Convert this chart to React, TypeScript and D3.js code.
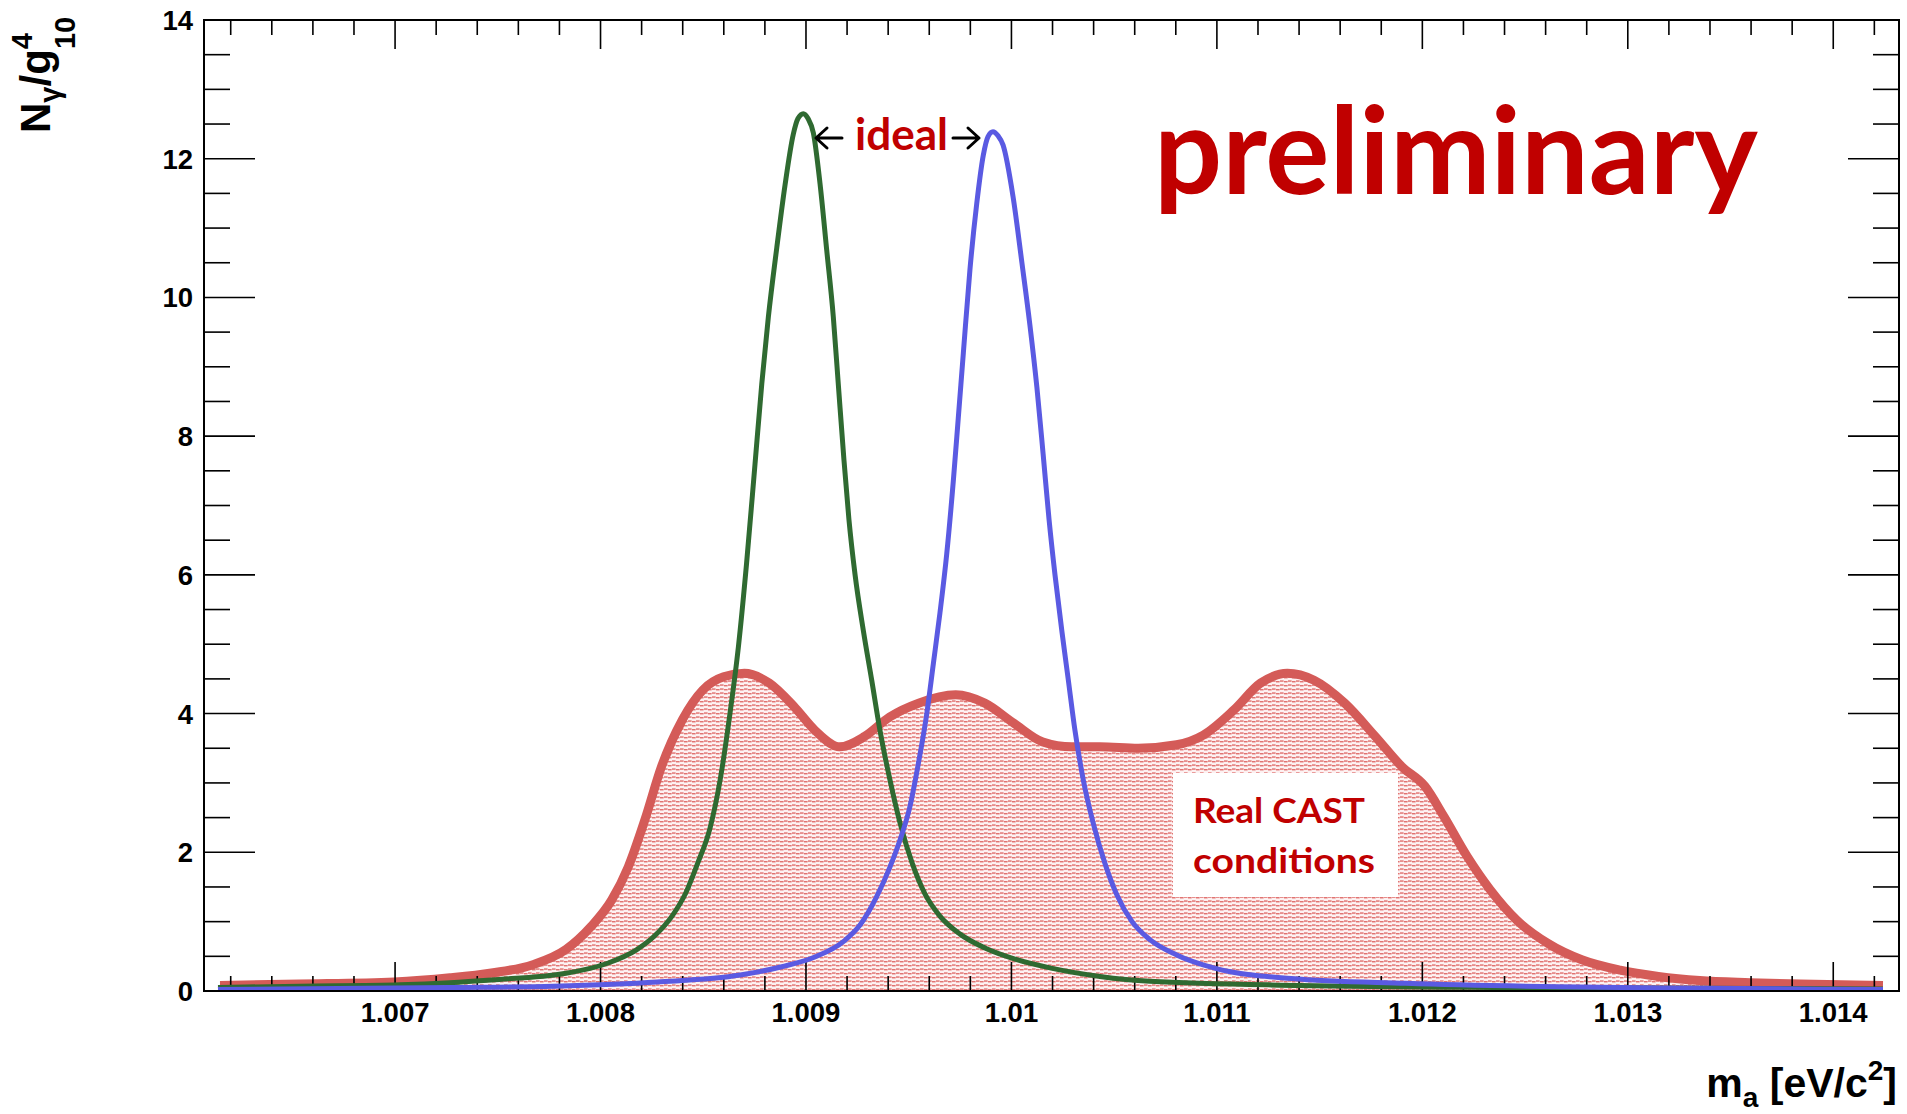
import React from "react";
import * as d3 from "d3";

// ---- data ----
const massRed = [
  1.006148, 1.006537, 1.006995, 1.007267, 1.007469, 1.007671, 1.007832, 1.007954, 1.008054, 1.008135,
  1.008216, 1.008296, 1.008398, 1.008498, 1.008599, 1.0087, 1.008821, 1.008942, 1.009043, 1.009164,
  1.009285, 1.009407, 1.009548, 1.009729, 1.00987, 1.010012, 1.010153, 1.010294, 1.010431, 1.010617,
  1.010804, 1.010934, 1.011082, 1.011213, 1.011343, 1.011473, 1.011622, 1.011771, 1.011902, 1.012013,
  1.012106, 1.012218, 1.01233, 1.01246, 1.012609, 1.012776, 1.012963, 1.013149, 1.01335, 1.013595,
  1.013838, 1.014242,
];
const valRed = [
  0.08, 0.1, 0.13, 0.19, 0.26, 0.38, 0.6, 0.93, 1.31, 1.79,
  2.47, 3.23, 3.91, 4.34, 4.53, 4.58, 4.44, 4.1, 3.76, 3.52,
  3.67, 3.95, 4.15, 4.27, 4.15, 3.86, 3.59, 3.52, 3.52, 3.5,
  3.55, 3.69, 4.05, 4.44, 4.58, 4.48, 4.15, 3.67, 3.23, 2.95,
  2.51, 1.94, 1.46, 1.02, 0.69, 0.45, 0.3, 0.21, 0.15, 0.12,
  0.1, 0.08,
];

const massGreen = [
  1.006138, 1.006537, 1.007024, 1.007267, 1.007469, 1.007832, 1.008034, 1.008173, 1.008265, 1.008348,
  1.008416, 1.008474, 1.008533, 1.008582, 1.00863, 1.008671, 1.008711, 1.008752, 1.008785, 1.008817,
  1.008858, 1.008898, 1.008938, 1.008961, 1.008987, 1.00901, 1.009036, 1.009068, 1.009101, 1.009133,
  1.009157, 1.009185, 1.009209, 1.009239, 1.009279, 1.00932, 1.00936, 1.009409, 1.009458, 1.009516,
  1.009579, 1.009652, 1.00975, 1.009871, 1.010017, 1.010193, 1.010431, 1.010674, 1.011405, 1.012378,
  1.013351, 1.014242,
];
const valGreen = [
  0.05, 0.07, 0.09, 0.12, 0.16, 0.255, 0.4, 0.59, 0.8, 1.08,
  1.42, 1.85, 2.35, 3.04, 4.0, 4.96, 6.17, 7.6, 8.76, 9.72,
  10.72, 11.62, 12.35, 12.58, 12.65, 12.58, 12.37, 11.65, 10.68, 9.72,
  8.76, 7.65, 6.8, 6.0, 5.2, 4.48, 3.76, 3.04, 2.42, 1.85,
  1.4, 1.08, 0.82, 0.62, 0.46, 0.33, 0.21, 0.14, 0.08, 0.05,
  0.04, 0.03,
];

const massBlue = [
  1.006138, 1.007267, 1.007772, 1.008276, 1.00868, 1.008882, 1.009043, 1.009185, 1.009263, 1.009344,
  1.009409, 1.009458, 1.009506, 1.009547, 1.009588, 1.00962, 1.009652, 1.009685, 1.009717, 1.009741,
  1.009766, 1.009798, 1.009831, 1.009863, 1.009886, 1.00991, 1.009935, 1.009959, 1.010008, 1.010051,
  1.01009, 1.010124, 1.010154, 1.010183, 1.010212, 1.010245, 1.010277, 1.010309, 1.01035, 1.010398,
  1.010455, 1.010514, 1.010587, 1.010674, 1.010804, 1.010989, 1.011362, 1.01192, 1.012665, 1.01335,
  1.014242,
];
const valBlue = [
  0.02, 0.05, 0.07, 0.13, 0.23, 0.35, 0.49, 0.72, 0.95, 1.36,
  1.79, 2.18, 2.66, 3.28, 4.0, 4.72, 5.45, 6.3, 7.35, 8.25,
  9.2, 10.4, 11.35, 12.05, 12.32, 12.39, 12.33, 12.2, 11.45, 10.5,
  9.6, 8.7, 7.75, 6.8, 6.0, 5.2, 4.48, 3.76, 3.04, 2.42,
  1.84, 1.38, 1.0, 0.74, 0.52, 0.33, 0.18, 0.11, 0.06, 0.04,
  0.02,
];

const xTickValues = [1.007, 1.008, 1.009, 1.01, 1.011, 1.012, 1.013, 1.014];
const xTickLabels = ["1.007", "1.008", "1.009", "1.01", "1.011", "1.012", "1.013", "1.014"];
const yTickValues = [0, 2, 4, 6, 8, 10, 12, 14];
const yTickLabels = ["0", "2", "4", "6", "8", "10", "12", "14"];

// ---- layout ----
const W = 1907;
const H = 1114;
const L = 204, R = 1899, T = 20, B = 991;
const AXIS_FONT = "'Liberation Sans', Arial, Helvetica, sans-serif";
const NOTE_FONT = "Lato, 'Open Sans', sans-serif";

export default function App() {
  const x = d3.scaleLinear().domain([1.00607, 1.01432]).range([L, R]);
  const y = d3.scaleLinear().domain([0, 14]).range([B, T]);

  const toPts = (ms: number[], vs: number[]) => ms.map((m, i) => [m, vs[i]] as [number, number]);

  const line = d3
    .line<[number, number]>()
    .x((d) => x(d[0]))
    .y((d) => y(d[1]))
    .curve(d3.curveMonotoneX);
  const area = d3
    .area<[number, number]>()
    .x((d) => x(d[0]))
    .y0(y(0))
    .y1((d) => y(d[1]))
    .curve(d3.curveMonotoneX);

  const red = toPts(massRed, valRed);
  const green = toPts(massGreen, valGreen);
  const blue = toPts(massBlue, valBlue);

  const xMinor = d3.range(0, 41).map((i) => 1.0062 + i * 0.0002).filter((v) => v <= 1.01432);
  const yMinor = d3.range(0, 29).map((i) => i * 0.5);

  const majX = (v: number) => xTickValues.some((t) => Math.abs(t - v) < 1e-7);
  const majY = (v: number) => Math.abs(v / 2 - Math.round(v / 2)) < 1e-6;

  return (
    <svg
      width={W}
      height={H}
      viewBox={`0 0 ${W} ${H}`}
      style={{ position: "absolute", left: 0, top: 0, background: "#fff" }}
    >
      <defs>
        <pattern id="hatch" width="8" height="4" patternUnits="userSpaceOnUse">
          <rect width="8" height="4" fill="#fdf1f1" />
          <rect x="0" y="0.4" width="3.6" height="1.3" fill="#de6563" />
          <rect x="4" y="1.1" width="3.6" height="1.3" fill="#de6563" />
        </pattern>
        <clipPath id="frame">
          <rect x={L} y={T} width={R - L} height={B - T} />
        </clipPath>
      </defs>

      <rect x={0} y={0} width={W} height={H} fill="#fff" />

      <g clipPath="url(#frame)">
        <path d={area(red) || ""} fill="url(#hatch)" />
        <path d={line(red) || ""} fill="none" stroke="#d45b58" strokeWidth={9} strokeLinejoin="round" />
      </g>

      {/* ticks */}
      <g stroke="#000" strokeWidth={1.6}>
        {xMinor.map((v, i) => {
          const len = majX(v) ? 29 : 15;
          const px = x(v);
          return (
            <g key={"xt" + i}>
              <line x1={px} x2={px} y1={B} y2={B - len} />
              <line x1={px} x2={px} y1={T} y2={T + len} />
            </g>
          );
        })}
        {yMinor.map((v, i) => {
          const len = majY(v) ? 51 : 26;
          const py = y(v);
          return (
            <g key={"yt" + i}>
              <line x1={L} x2={L + len} y1={py} y2={py} />
              <line x1={R} x2={R - len} y1={py} y2={py} />
            </g>
          );
        })}
      </g>

      <g clipPath="url(#frame)">
        <path d={line(green) || ""} fill="none" stroke="#2f6a31" strokeWidth={5} strokeLinejoin="round" />
        <path d={line(blue) || ""} fill="none" stroke="#5a5ae2" strokeWidth={5} strokeLinejoin="round" />
      </g>

      <rect x={L} y={T} width={R - L} height={B - T} fill="none" stroke="#000" strokeWidth={2} />

      {/* tick labels */}
      <g fontFamily={AXIS_FONT} fontWeight="bold" fontSize={27.5} fill="#000">
        {xTickValues.map((v, i) => (
          <text key={"xl" + i} x={x(v)} y={1022} textAnchor="middle">
            {xTickLabels[i]}
          </text>
        ))}
        {yTickValues.map((v, i) => (
          <text key={"yl" + i} x={193} y={y(v) + 10} textAnchor="end">
            {yTickLabels[i]}
          </text>
        ))}
      </g>

      {/* axis titles */}
      <text x={1897} y={1097} textAnchor="end" fontFamily={AXIS_FONT} fontWeight="bold" fontSize={41}>
        m<tspan fontSize={28} dy={10}>a</tspan>
        <tspan dy={-10}> [eV/c</tspan>
        <tspan fontSize={28} dy={-17}>2</tspan>
        <tspan dy={17}>]</tspan>
      </text>
      <text
        transform="translate(50,133) rotate(-90)"
        fontFamily={AXIS_FONT}
        fontWeight="bold"
        fontSize={42}
      >
        N<tspan fontSize={29} dy={10}>γ</tspan>
        <tspan dy={-10}>/g</tspan>
        <tspan fontSize={29} dy={-18}>4</tspan>
        <tspan fontSize={29} dx={-16} dy={43}>10</tspan>
      </text>

      {/* annotations */}
      <text
        x={1154}
        y={194}
        fontFamily={NOTE_FONT}
        fontWeight="bold"
        fontSize={120}
        fill="#c00000"
        textLength={604}
        lengthAdjust="spacingAndGlyphs"
      >
        preliminary
      </text>

      <text
        x={855}
        y={150}
        fontFamily={NOTE_FONT}
        fontWeight="bold"
        fontSize={44}
        fill="#c00000"
        textLength={93}
        lengthAdjust="spacingAndGlyphs"
      >
        ideal
      </text>
      <g stroke="#000" strokeWidth={3} fill="none" strokeLinecap="round" strokeLinejoin="round">
        <path d="M842,138 H816 M827,128 L816,138 L827,148" />
        <path d="M953,138 H979 M968,128 L979,138 L968,148" />
      </g>

      <rect x={1173} y={773} width={225} height={124} fill="#fff" />
      <g fontFamily={NOTE_FONT} fontWeight="bold" fontSize={35} fill="#c00000">
        <text x={1193} y={823} textLength={172} lengthAdjust="spacingAndGlyphs">
          Real CAST
        </text>
        <text x={1193} y={873} textLength={182} lengthAdjust="spacingAndGlyphs">
          conditions
        </text>
      </g>
    </svg>
  );
}
